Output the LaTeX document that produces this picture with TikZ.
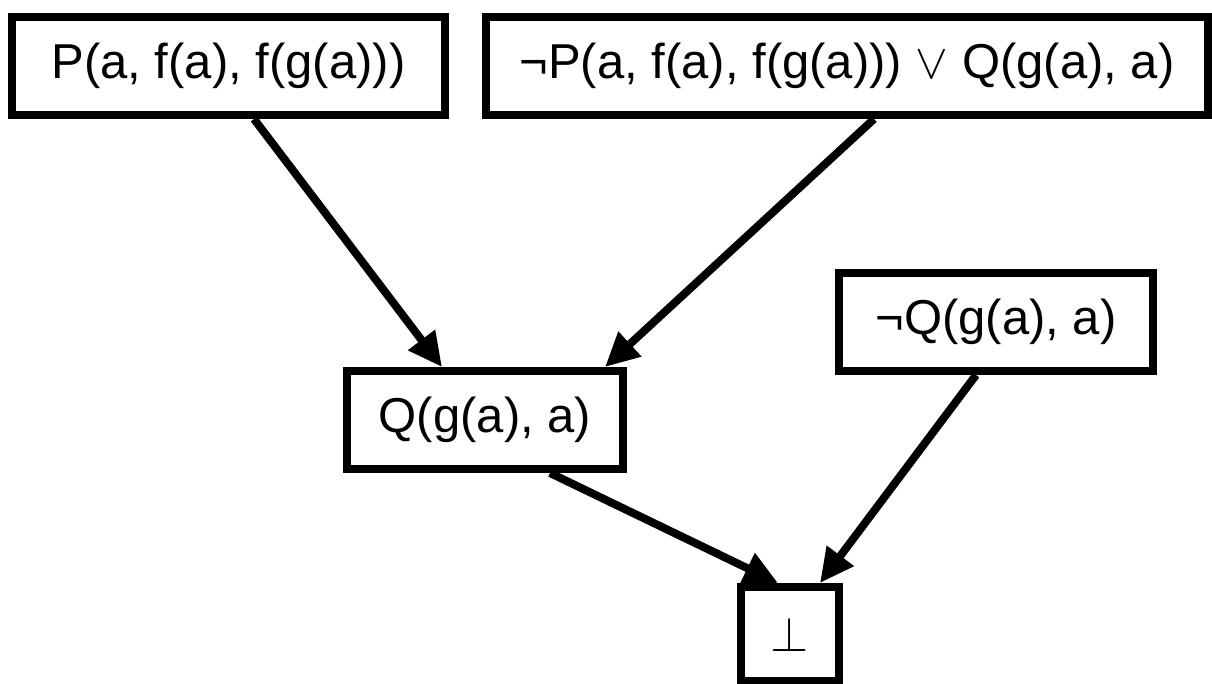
\RequirePackage{fix-cm}
\documentclass[tikz,border=0pt]{standalone}
\usepackage{fontspec}
\setmainfont{Liberation Sans}
\usetikzlibrary{arrows.meta}
\begin{document}
\begin{tikzpicture}[x=1pt,y=-1pt,
  box/.style={draw, line width=8pt, inner sep=0pt, align=center,
    font=\fontsize{49}{59}\selectfont, minimum height=98pt},
  edge/.style={line width=8pt, -{Triangle[length=34pt,width=32pt]}}]
\useasboundingbox (0,0) rectangle (1212,684);
\node[box, minimum width=433pt] (A) at (228.5,66) {P(a, f(a), f(g(a)))};
\node[box, minimum width=722pt] (B) at (847,66) {¬P(a, f(a), f(g(a))) $\vee$ Q(g(a), a)};
\node[box, minimum width=276pt] (D) at (485,420) {Q(g(a), a)};
\node[box, minimum width=314pt] (C) at (996,322) {¬Q(g(a), a)};
\node[box, minimum width=98pt, minimum height=94pt] (E) at (790,634) {$\bot$};
\draw[edge] ([xshift=25.5pt]A.south) -- ([xshift=-43pt]D.north);
\draw[edge] ([xshift=27pt]B.south) -- ([xshift=120pt]D.north);
\draw[edge] ([xshift=65pt]D.south) -- ([xshift=-12pt]E.north);
\draw[edge] ([xshift=-20pt]C.south) -- ([xshift=30pt]E.north);
\end{tikzpicture}
\end{document}
